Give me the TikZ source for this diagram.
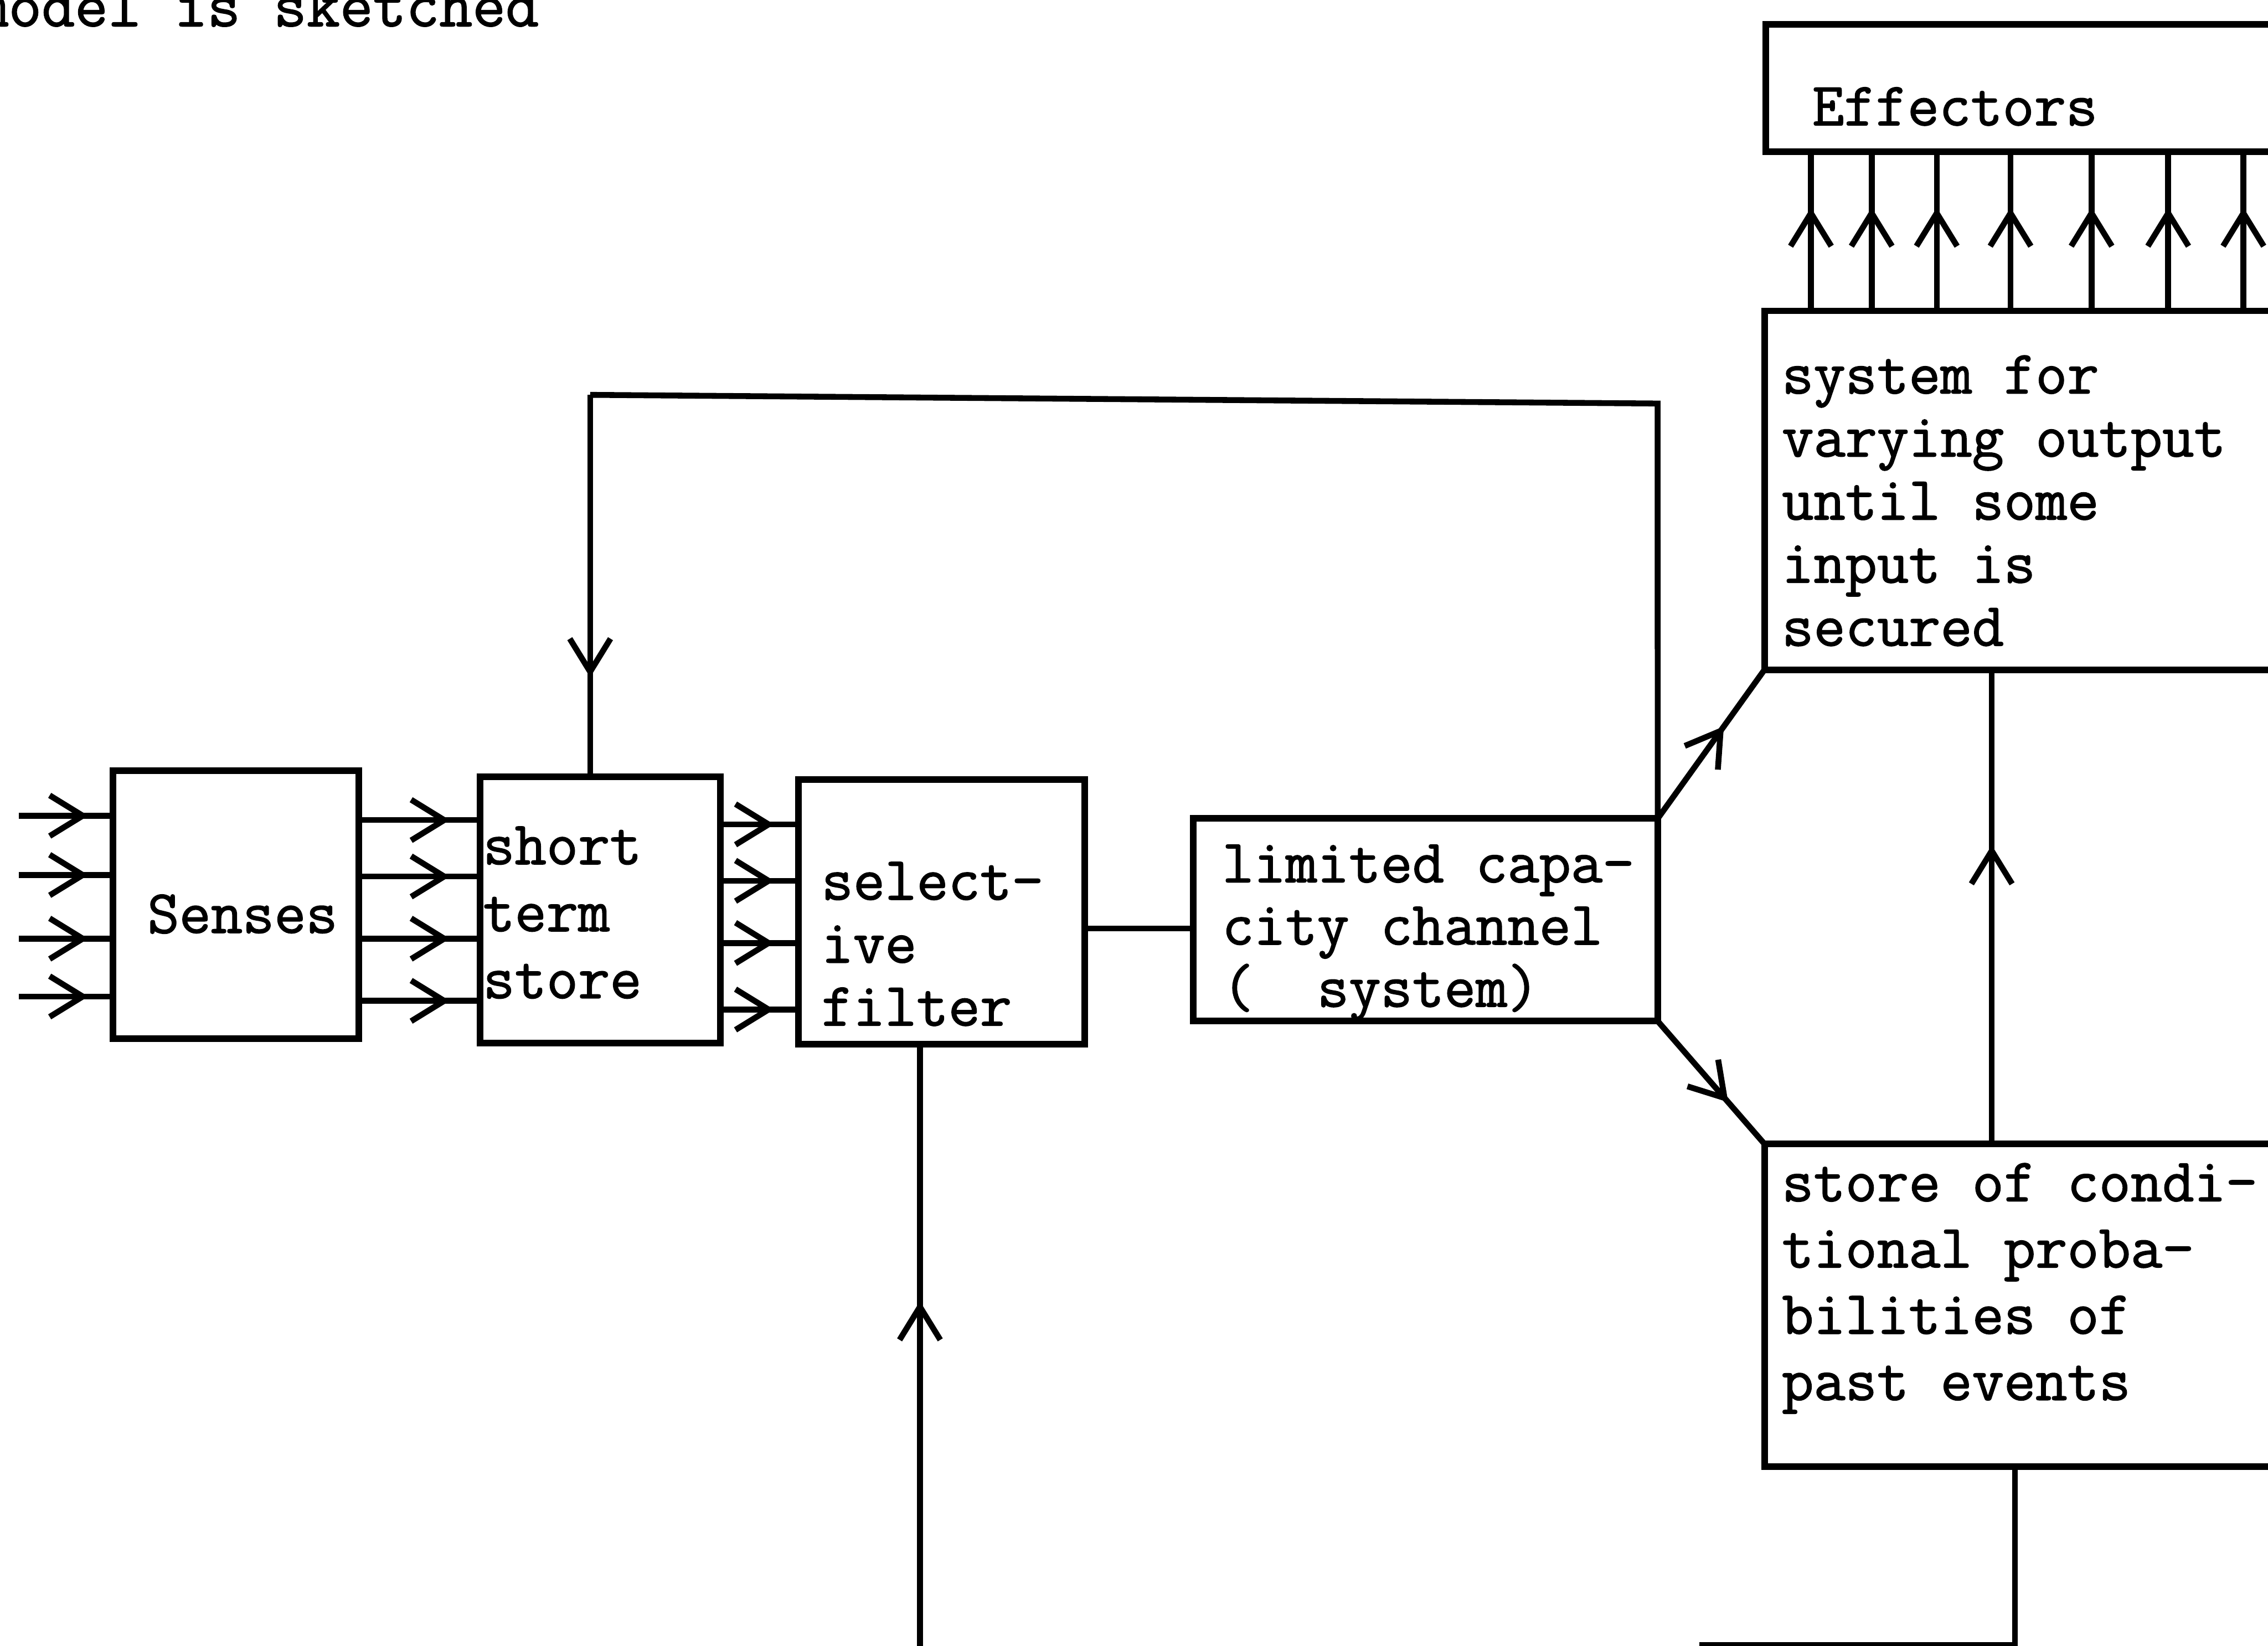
\documentclass[tikz,border=0pt]{standalone}
\usepackage{fontspec}
\setmonofont{Latin Modern Mono}[FakeBold=1.5]
\usetikzlibrary{arrows.meta,decorations.markings}
\tikzset{
  box/.style={draw, line width=1.3pt, inner sep=0pt, outer sep=0pt},
  conn/.style={line width=1.15pt},
  marrow/.style={postaction={decorate}, decoration={markings, mark=at position #1 with {\arrow{Straight Barb[length=6.5pt,width=8pt]}}}},
  lbl/.style={font=\ttfamily\fontsize{12.1}{#1}\selectfont, align=left, inner sep=0pt, outer sep=0pt, anchor=north west},
  lbl/.default=12.5,
}
\newcommand\tstrut{\rule{0pt}{8pt}}
\begin{document}
\begin{tikzpicture}[x=0.01cm, y=-0.01cm]
\fill[white] (0,0) rectangle (1568,1138);
\useasboundingbox (0,0) rectangle (1568,1138);

% boxes
\node[box, minimum width=1.70cm, minimum height=1.85cm] (senses) at (163,625.5) {};
\node[box, minimum width=1.66cm, minimum height=1.84cm] (sts) at (415,629) {};
\node[box, minimum width=1.98cm, minimum height=1.83cm] (filt) at (651,630.5) {};
\node[box, minimum width=3.21cm, minimum height=1.40cm] (chan) at (985.5,636) {};
\node[box, minimum width=4.19cm, minimum height=0.88cm] (eff) at (1430.5,61) {};
\node[box, minimum width=4.20cm, minimum height=2.48cm] (sys) at (1430,339) {};
\node[box, minimum width=4.20cm, minimum height=2.23cm] (cond) at (1430,902.5) {};

% texts
\node[lbl, font=\ttfamily\fontsize{12.65}{13}\selectfont] (title) at (-17,-10) {\tstrut model is sketched};
\node[lbl] (senses-t) at (102,616.9) {\tstrut Senses};
\node[lbl=13.17] (sts-t) at (334,569.4) {\tstrut short\\term\\store};
\node[lbl=12.38] (filt-t) at (568,593.9) {\tstrut select-\\ive\\filter};
\node[lbl=12.23] (chan-t) at (845,581.9) {\tstrut limited capa-\\city channel\\(~~system)};
\node[lbl=12.4] (sys-t) at (1232,243.9) {\tstrut system for\\varying output\\until some\\input is\\secured};
\node[lbl] (eff-t) at (1253,58.5) {\tstrut Effectors};
\node[lbl=13.03] (cond-t) at (1232,802.4) {\tstrut store of condi-\\tional proba-\\bilities of\\past events};

% inputs to senses
\foreach \i/\y in {1/564,2/605,3/649,4/689} {
  \coordinate (in\i) at (13,\y);
  \draw[conn, marrow=0.74] (in\i) -- (in\i -| senses.west);
}
% senses -> short term store
\foreach \i/\y in {1/567,2/606,3/649,4/692} {
  \coordinate (ss\i) at (0,\y);
  \draw[conn, marrow=0.75] (senses.east |- ss\i) -- (sts.west |- ss\i);
}
% short term store -> filter
\foreach \i/\y in {1/570,2/609,3/652,4/698} {
  \coordinate (sf\i) at (0,\y);
  \draw[conn, marrow=0.69] (sts.east |- sf\i) -- (filt.west |- sf\i);
}
% filter -> channel
\coordinate (fc) at (0,642);
\draw[conn] (filt.east |- fc) -- (chan.west |- fc);

% feedback to short term store
\coordinate (fbR) at (1146,279);
\coordinate (fbL) at (408,273);
\draw[conn] (chan.north east) -- (fbR) -- (fbL);
\draw[conn, marrow=0.74] (fbL) -- (fbL |- sts.north);

% channel -> system / store
\draw[conn, marrow=0.62] (chan.north east) -- (sys.south west);
\draw[conn, marrow=0.66] (chan.south east) -- (cond.north west);

% store -> system
\coordinate (cs) at (1377,0);
\draw[conn, marrow=0.63] (cond.north -| cs) -- (sys.south -| cs);

% system -> effectors
\foreach \x in {1252,1294,1339,1390,1446,1499,1551} {
  \coordinate (e\x) at (\x,0);
  \draw[conn, marrow=0.65] (sys.north -| e\x) -- (eff.south -| e\x);
}

% input to filter from below
\coordinate (fb) at (636,1145);
\draw[conn, marrow=0.58] (fb) -- (fb |- filt.south);

% line from store downwards
\coordinate (br) at (1393,1137.5);
\coordinate (bl) at (1175,1137.5);
\draw[conn] (cond.south -| br) -- (br) -- (bl);
\end{tikzpicture}
\end{document}
